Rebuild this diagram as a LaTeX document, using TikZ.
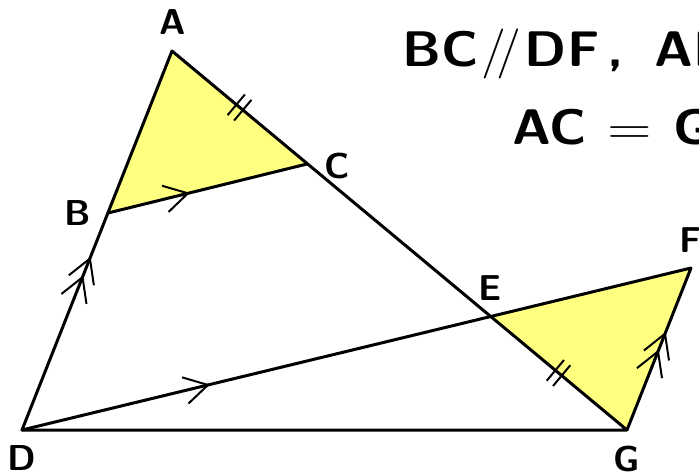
\documentclass[tikz,border=0pt]{standalone}
\usepackage{graphicx}
\usetikzlibrary{calc}
\definecolor{tri}{RGB}{255,255,128}
\newcommand\chevron[2]{\draw[markline] ($(#1)!27pt!150:(#2)$) -- (#1) -- ($(#1)!27pt!-150:(#2)$);}
\newcommand\tickmark[2]{\draw[markline] ($(#1)!13.5pt!90:(#2)$) -- ($(#1)!13.5pt!-90:(#2)$);}
\newcommand\parsym{{\mdseries\kern0.06em/\kern-0.18em/\kern0.06em}}
\newcommand\eqsym{{\mdseries\scalebox{1.15}[1]{=}}}
\begin{document}
\begin{tikzpicture}[x=1pt,y=-1pt,
  edge/.style={line width=3pt, line join=round, line cap=round},
  markline/.style={line width=2pt},
  lab/.style={font=\fontsize{36}{36}\selectfont\sffamily\bfseries, inner sep=0pt},
  title/.style={font=\fontsize{50}{50}\selectfont\sffamily\bfseries, inner sep=0pt, anchor=base west},
]
\useasboundingbox (0,0) rectangle (699,473);
\coordinate (A) at (172,51);
\coordinate (B) at (108,213);
\coordinate (C) at (307,164);
\coordinate (D) at (22,430);
\coordinate (E) at (490,316);
\coordinate (F) at (691,268);
\coordinate (G) at (627,430);
\fill[tri] (A) -- (B) -- (C) -- cycle;
\fill[tri] (G) -- (F) -- (E) -- cycle;
\draw[edge] (A) -- (D) -- (G) -- cycle;
\draw[edge] (B) -- (C);
\draw[edge] (D) -- (F) -- (G);
% parallel marks
\coordinate (bc1) at ($(B)!0.402!(C)$);
\coordinate (df1) at ($(D)!0.278!(F)$);
\coordinate (db1) at ($(D)!0.79!(B)$);
\coordinate (db2) at ($(D)!0.704!(B)$);
\coordinate (gf1) at ($(G)!0.594!(F)$);
\coordinate (gf2) at ($(G)!0.485!(F)$);
\chevron{bc1}{C}
\chevron{df1}{F}
\chevron{db1}{B}
\chevron{db2}{B}
\chevron{gf1}{F}
\chevron{gf2}{F}
% equal marks
\coordinate (ac1) at ($(A)!0.476!(C)$);
\coordinate (ac2) at ($(A)!0.524!(C)$);
\coordinate (eg1) at ($(E)!0.477!(G)$);
\coordinate (eg2) at ($(E)!0.523!(G)$);
\tickmark{ac1}{C}
\tickmark{ac2}{C}
\tickmark{eg1}{G}
\tickmark{eg2}{G}
% labels
\node[lab] (lA) at (173,22.5) {A};
\node[lab] (lB) at (77.5,213) {B};
\node[lab] (lC) at (337,165.5) {C};
\node[lab] (lD) at (21.5,458) {D};
\node[lab] (lE) at (490,288) {E};
\node[lab] (lF) at (690,240) {F};
\node[lab] (lG) at (626.5,459) {G};
\node[title] (t1) at (402,67) {\scalebox{1.06}[1]{BC\parsym DF\kern0.15em,\hspace{0.58em}AB\parsym FG}};
\node[title] (t2) at (512,145) {\scalebox{1.06}[1]{AC\hspace{0.4em}\eqsym\hspace{0.4em}GE}};
\end{tikzpicture}
\end{document}
